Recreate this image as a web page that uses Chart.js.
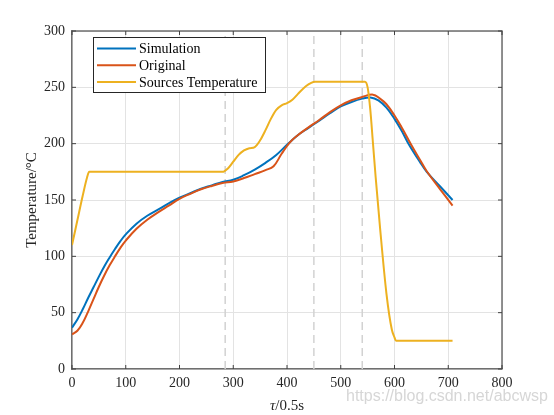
<!DOCTYPE html>
<html>
<head>
<meta charset="utf-8">
<script src="https://cdn.jsdelivr.net/npm/chart.js@4/dist/chart.umd.min.js"></script>
<style>
html, body { margin: 0; padding: 0; background: #fff; }
#wrap { width: 554px; height: 415px; }
</style>
</head>
<body>
<div id="wrap"><canvas id="tempChart" width="554" height="415"></canvas></div>
<script>
////Series (x in tau/0.5s, y in deg C)
const simT  = [0, 10, 20, 30, 40, 50, 60, 70, 80, 90, 100, 120, 140, 160, 180, 200, 220, 240, 260, 280, 300, 320, 340, 360, 380, 400, 420, 440, 460, 480, 500, 520, 540, 555, 570, 585, 600, 615, 626, 647, 660, 685, 708];
const simV  = [36.7, 44, 53, 63, 72.5, 82, 91, 99, 106.5, 113.5, 119.5, 129, 136, 141.5, 147, 152, 156, 160, 163, 166, 168, 172, 177, 183, 190, 199, 207.5, 214, 220.5, 227, 233, 237, 240, 241, 238.5, 232, 222, 210, 200, 184, 175, 162, 150];

const origT = [0, 10, 20, 30, 40, 50, 60, 70, 80, 90, 100, 120, 140, 160, 180, 200, 220, 240, 260, 280, 300, 320, 340, 360, 375, 390, 405, 420, 440, 460, 480, 500, 520, 540, 560, 573, 585, 600, 615, 630, 647, 660, 685, 708];
const origV = [30.8, 34, 41, 51, 62, 73, 83, 92, 100, 107.5, 114, 124.5, 132.5, 139, 145, 151, 155.5, 159.5, 162.5, 165, 166.5, 169.5, 173, 176.5, 180, 191, 201, 207.5, 214.5, 221, 228, 234, 238.5, 241.5, 243.5, 240, 235, 225, 213, 200, 186, 175.5, 159.5, 145];

const srcT  = [0, 10, 20, 28, 32, 280, 290, 300, 310, 320, 330, 340, 350, 360, 370, 380, 390, 400, 410, 420, 435, 445, 452, 545, 550, 555, 560, 565, 573, 585, 595, 600, 603, 708];
const srcV  = [110, 132, 154, 170, 175, 175, 178, 184, 190, 194, 196, 197, 203, 212, 222, 230, 234, 236, 239, 244, 251, 254, 255, 255, 250, 230, 200, 170, 126, 67, 35, 28, 25, 25];

//dashed vertical markers
const markX = [285, 450, 540];

//labels
const seriesNames = ["Simulation", "Original", "Sources Temperature"];
const seriesColors = ["#0072BD", "#D95319", "#EDB120"];
const xTicks = [0, 100, 200, 300, 400, 500, 600, 700, 800];
const yTicks = [0, 50, 100, 150, 200, 250, 300];

const SERIF = '"Liberation Serif", "Times New Roman", serif';
const AXIS_COLOR = "#6f6f6f";

//zip two arrays into chart points
function toPoints(xs, ys) {
    let pts = [];
    for (let i = 0; i < xs.length; i++) {
        pts.push({ x: xs[i], y: ys[i] });
    }
    return pts;
}

let datasets = [
    { label: seriesNames[0], data: toPoints(simT, simV), borderColor: seriesColors[0], order: 3, tension: 0.4 },
    { label: seriesNames[1], data: toPoints(origT, origV), borderColor: seriesColors[1], order: 2, tension: 0.4 },
    { label: seriesNames[2], data: toPoints(srcT, srcV), borderColor: seriesColors[2], order: 1, cubicInterpolationMode: "monotone" }
];
datasets.forEach(ds => {
    ds.borderWidth = 2;
    ds.pointRadius = 0;
    ds.fill = false;
});

//marker lines span the whole y range
for (let mx of markX) {
    datasets.push({
        label: "",
        data: [{ x: mx, y: yTicks[0] }, { x: mx, y: yTicks[yTicks.length - 1] }],
        borderColor: "#d2d2d2",
        borderWidth: 1.5,
        borderDash: [8, 5],
        pointRadius: 0,
        order: 10
    });
}

////Frame, inward ticks, legend, x title and watermark
const decorations = {
    id: "decorations",
    afterDraw(chart) {
        const { ctx, chartArea: a, scales } = chart;
        ctx.save();

        //top and right border
        ctx.strokeStyle = AXIS_COLOR;
        ctx.lineWidth = 1.5;
        ctx.beginPath();
        ctx.moveTo(a.left, a.top);
        ctx.lineTo(a.right, a.top);
        ctx.lineTo(a.right, a.bottom);
        ctx.stroke();

        //inward ticks on all four sides
        ctx.lineWidth = 1;
        ctx.strokeStyle = "#404040";
        const tl = 4;
        ctx.beginPath();
        for (let t of xTicks) {
            let px = scales.x.getPixelForValue(t);
            ctx.moveTo(px, a.bottom); ctx.lineTo(px, a.bottom - tl);
            ctx.moveTo(px, a.top); ctx.lineTo(px, a.top + tl);
        }
        for (let t of yTicks) {
            let py = scales.y.getPixelForValue(t);
            ctx.moveTo(a.left, py); ctx.lineTo(a.left + tl, py);
            ctx.moveTo(a.right, py); ctx.lineTo(a.right - tl, py);
        }
        ctx.stroke();

        //legend box
        const bx = 93, by = 37, bw = 172, bh = 55;
        ctx.fillStyle = "#fff";
        ctx.fillRect(bx, by, bw, bh);
        ctx.strokeStyle = "#262626";
        ctx.lineWidth = 1;
        ctx.strokeRect(bx + 0.5, by + 0.5, bw, bh);
        ctx.font = "14px " + SERIF;
        ctx.textBaseline = "middle";
        ctx.textAlign = "left";
        for (let i = 0; i < seriesNames.length; i++) {
            let ry = 48.5 + i * 16.7;
            ctx.strokeStyle = seriesColors[i];
            ctx.lineWidth = 2;
            ctx.beginPath();
            ctx.moveTo(97, ry);
            ctx.lineTo(136, ry);
            ctx.stroke();
            ctx.fillStyle = "#000";
            ctx.fillText(seriesNames[i], 139, ry + 1);
        }

        //x axis title with italic tau
        const cx = (a.left + a.right) / 2;
        ctx.fillStyle = "#262626";
        ctx.textBaseline = "alphabetic";
        ctx.font = "italic 15px " + SERIF;
        let tauW = ctx.measureText("\u03c4").width;
        ctx.font = "15px " + SERIF;
        let restW = ctx.measureText("/0.5s").width;
        let sx = cx - (tauW + restW) / 2;
        ctx.font = "italic 15px " + SERIF;
        ctx.fillText("\u03c4", sx, 410);
        ctx.font = "15px " + SERIF;
        ctx.fillText("/0.5s", sx + tauW, 410);

        //blog watermark
        ctx.font = "16px \"Liberation Sans\", Arial, sans-serif";
        ctx.fillStyle = "rgba(200, 200, 200, 0.75)";
        ctx.fillText("https://blog.csdn.net/abcwsp", 346, 401);

        ctx.restore();
    }
};

///Create chart with Chart JS
var ctx = document.getElementById("tempChart").getContext("2d");
var tempChart = new Chart(ctx, {
    type: "line",
    data: { datasets: datasets },
    options: {
        responsive: false,
        animation: false,
        layout: { padding: { top: 31, right: 52, left: 0, bottom: 0 } },
        plugins: {
            legend: { display: false },
            tooltip: { enabled: false }
        },
        scales: {
            x: {
                type: "linear",
                min: 0,
                max: 800,
                afterFit(scale) { scale.height = 46; },
                afterBuildTicks(scale) { scale.ticks = xTicks.map(v => ({ value: v })); },
                ticks: { padding: 6, color: "#262626", font: { family: SERIF, size: 14 } },
                grid: { color: "#e3e3e3", drawTicks: false },
                border: { color: AXIS_COLOR, width: 1.5 }
            },
            y: {
                min: 0,
                max: 300,
                afterFit(scale) { scale.width = 72; },
                afterBuildTicks(scale) { scale.ticks = yTicks.map(v => ({ value: v })); },
                ticks: { padding: 7, color: "#262626", font: { family: SERIF, size: 14 } },
                grid: { color: "#e3e3e3", drawTicks: false },
                border: { color: AXIS_COLOR, width: 1.5 },
                title: {
                    display: true,
                    text: "Temperature/\u00b0C",
                    color: "#262626",
                    font: { family: SERIF, size: 15 },
                    padding: { top: 23, bottom: 0 }
                }
            }
        }
    },
    plugins: [decorations]
});
</script>
</body>
</html>
